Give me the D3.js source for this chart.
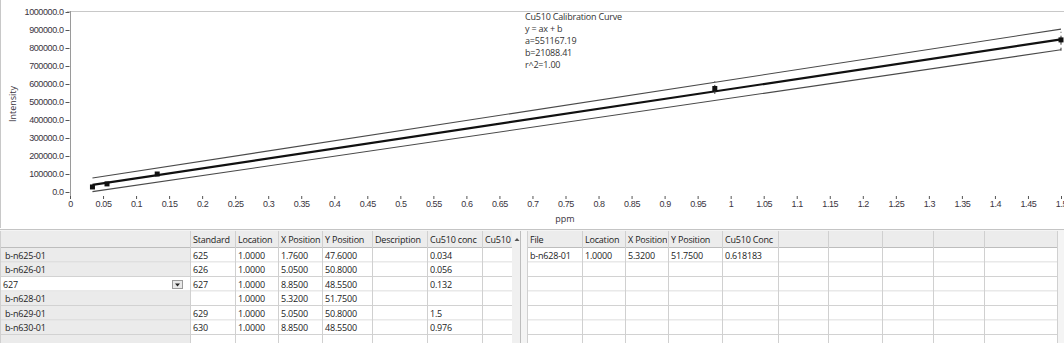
<!DOCTYPE html>
<html lang="en">
  <head>
    <meta charset="utf-8">
    <title>Cu510 Calibration Curve</title>
    <style type="text/css">
      body { margin: 0; background: #ffffff; }
      svg { display: block; font-family: "Open Sans", "Liberation Sans", sans-serif; }
    </style>
  </head>
  <body>
    <div id="chart"></div>

    <script type="text/javascript" src="https://cdn.jsdelivr.net/npm/d3@7"></script>

    <script type="text/javascript">
    // ===================================
    // DATA
    // ===================================
      var stdConc = [0.034, 0.056, 0.132, 0.976, 1.5];
      var stdIntensity = [28000, 45000, 100000, 575000, 845000];
      var stdErrLow = [20000, 38000, 92000, 545000, 785000];
      var stdErrHigh = [36000, 52000, 108000, 615000, 890000];

      var fitX = [0.034, 1.5];
      var fitY = [39800, 847800];
      var upperY = [78000, 905000];
      var lowerY = [2000, 790000];

      var xTicks = [0, 0.05, 0.1, 0.15, 0.2, 0.25, 0.3, 0.35, 0.4, 0.45, 0.5,
        0.55, 0.6, 0.65, 0.7, 0.75, 0.8, 0.85, 0.9, 0.95, 1, 1.05, 1.1, 1.15,
        1.2, 1.25, 1.3, 1.35, 1.4, 1.45, 1.5];
      var yTicks = [0, 100000, 200000, 300000, 400000, 500000, 600000, 700000,
        800000, 900000, 1000000];

      var fitText = ["Cu510 Calibration Curve", "y = ax + b", "a=551167.19",
        "b=21088.41", "r^2=1.00"];

      var stdHeaders = ["", "Standard", "Location", "X Position", "Y Position",
        "Description", "Cu510 conc", "Cu510 conc"];
      var stdRows = [
        ["b-n625-01", "625", "1.0000", "1.7600", "47.6000", "", "0.034", ""],
        ["b-n626-01", "626", "1.0000", "5.0500", "50.8000", "", "0.056", ""],
        ["627", "627", "1.0000", "8.8500", "48.5500", "", "0.132", ""],
        ["b-n628-01", "", "1.0000", "5.3200", "51.7500", "", "", ""],
        ["b-n629-01", "629", "1.0000", "5.0500", "50.8000", "", "1.5", ""],
        ["b-n630-01", "630", "1.0000", "8.8500", "48.5500", "", "0.976", ""],
        ["", "", "", "", "", "", "", ""]
      ];

      var fileHeaders = ["File", "Location", "X Position", "Y Position",
        "Cu510 Conc", "", "", "", "", ""];
      var fileRows = [
        ["b-n628-01", "1.0000", "5.3200", "51.7500", "0.618183", "", "", "", "", ""],
        ["", "", "", "", "", "", "", "", "", ""],
        ["", "", "", "", "", "", "", "", "", ""],
        ["", "", "", "", "", "", "", "", "", ""],
        ["", "", "", "", "", "", "", "", "", ""],
        ["", "", "", "", "", "", "", "", "", ""],
        ["", "", "", "", "", "", "", "", "", ""]
      ];

    // ===================================
    // SETUP
    // ===================================
      var w = 1064;
      var h = 343;

      var svg = d3.select("#chart")
        .append("svg")
        .attr("width", w)
        .attr("height", h);

      svg.append("rect")
        .attr("width", w).attr("height", h)
        .attr("fill", "#ffffff");

      var x = d3.scaleLinear().domain([0, 1.5]).range([70, 1061]);
      var y = d3.scaleLinear().domain([0, 1000000]).range([192, 12]);

      var textColor = "#3a3440";

    // ===================================
    // PLOT FRAME
    // ===================================
      svg.append("line")
        .attr("x1", 0.5).attr("x2", 0.5).attr("y1", 0).attr("y2", 228)
        .attr("stroke", "#c8c8c8");
      svg.append("line")
        .attr("x1", 67).attr("x2", w).attr("y1", 11.5).attr("y2", 11.5)
        .attr("stroke", "#c8c8c8");
      svg.append("line")
        .attr("x1", 70.5).attr("x2", 70.5).attr("y1", 11).attr("y2", 196)
        .attr("stroke", "#9a9a9a");

    // ===================================
    // AXES
    // ===================================
      var yAxis = svg.append("g")
        .attr("transform", "translate(69.5,0)")
        .call(d3.axisLeft(y)
          .tickValues(yTicks)
          .tickSize(4)
          .tickPadding(2)
          .tickFormat(d3.format(".1f")));
      yAxis.select(".domain").remove();
      yAxis.selectAll(".tick line").attr("stroke", "#555");
      yAxis.selectAll("text")
        .attr("fill", textColor)
        .style("font-size", "9px")
        .style("letter-spacing", "-0.4px");

      var xAxis = svg.append("g")
        .attr("transform", "translate(0,196)")
        .call(d3.axisBottom(x)
          .tickValues(xTicks)
          .tickSize(3)
          .tickPadding(2)
          .tickFormat(d3.format("~g")));
      xAxis.select(".domain").remove();
      xAxis.selectAll(".tick line").attr("stroke", "#555");
      xAxis.selectAll("text")
        .attr("fill", textColor)
        .style("font-size", "9px")
        .style("letter-spacing", "-0.4px");

      svg.append("text")
        .attr("x", 565).attr("y", 222)
        .attr("text-anchor", "middle")
        .attr("fill", textColor)
        .style("font-size", "9px")
        .text("ppm");

      svg.append("text")
        .attr("transform", "translate(16,104) rotate(-90)")
        .attr("text-anchor", "middle")
        .attr("fill", textColor)
        .style("font-size", "9px")
        .text("Intensity");

    // ===================================
    // FIT LINES
    // ===================================
      var line = d3.line()
        .x(function(d) { return x(d[0]); })
        .y(function(d) { return y(d[1]); });

      [[upperY, "#4a4a4a", 1.1], [lowerY, "#4a4a4a", 1.1], [fitY, "#111", 2.2]]
        .forEach(function(s) {
          svg.append("path")
            .datum(d3.zip(fitX, s[0]))
            .attr("d", line)
            .attr("fill", "none")
            .attr("stroke", s[1])
            .attr("stroke-width", s[2]);
        });

    // ===================================
    // STANDARD POINTS
    // ===================================
      var pts = d3.zip(stdConc, stdIntensity, stdErrLow, stdErrHigh);

      svg.selectAll(".err")
        .data(pts)
        .enter()
        .append("line")
        .attr("class", "err")
        .attr("x1", function(d) { return x(d[0]); })
        .attr("x2", function(d) { return x(d[0]); })
        .attr("y1", function(d) { return y(d[2]); })
        .attr("y2", function(d) { return y(d[3]); })
        .attr("stroke", "#333")
        .attr("stroke-dasharray", "3,3");

      svg.selectAll(".pt")
        .data(pts)
        .enter()
        .append("rect")
        .attr("class", "pt")
        .attr("x", function(d) { return x(d[0]) - 2.5; })
        .attr("y", function(d) { return y(d[1]) - 2.5; })
        .attr("width", 5)
        .attr("height", 5)
        .attr("fill", "#111");

    // ===================================
    // FIT TEXT
    // ===================================
      svg.selectAll(".fit")
        .data(fitText)
        .enter()
        .append("text")
        .attr("class", "fit")
        .attr("x", 525)
        .attr("y", function(d, i) { return 20 + i * 12; })
        .attr("fill", "#333")
        .style("font-size", "9px")
        .style("letter-spacing", "-0.2px")
        .text(function(d) { return d; });

    // ===================================
    // TABLES
    // ===================================
      svg.append("rect")
        .attr("x", 0).attr("y", 229).attr("width", w).attr("height", h - 229)
        .attr("fill", "#f4f4f4");

      var headTop = 231, headH = 17, rowH = 14.5;

      function drawTable(cols, headers, rows, labelCol) {
        var g = svg.append("g");
        var right = cols[cols.length - 1];
        var bottom = headTop + headH + rowH * rows.length;

        // header cells
        headers.forEach(function(t, i) {
          var cx = cols[i], cw = cols[i + 1] - cols[i];
          g.append("rect")
            .attr("x", cx).attr("y", headTop)
            .attr("width", cw).attr("height", headH)
            .attr("fill", "#ececec");
          var clipId = "clip" + Math.round(cx) + "h";
          g.append("clipPath").attr("id", clipId)
            .append("rect")
            .attr("x", cx).attr("y", headTop)
            .attr("width", cw - 1).attr("height", headH);
          g.append("text")
            .attr("clip-path", "url(#" + clipId + ")")
            .attr("x", cx + 3).attr("y", headTop + 12)
            .attr("fill", "#222")
            .style("font-size", "9px")
            .style("letter-spacing", "-0.2px")
            .text(t);
        });

        // body cells
        rows.forEach(function(r, ri) {
          var ry = headTop + headH + ri * rowH;
          r.forEach(function(t, i) {
            var cx = cols[i], cw = cols[i + 1] - cols[i];
            var isLabel = labelCol && i === 0;
            var isEdit = isLabel && t === "627";
            g.append("rect")
              .attr("x", cx).attr("y", ry)
              .attr("width", cw).attr("height", rowH)
              .attr("fill", isEdit ? "#ffffff" : (isLabel ? "#ebebeb" : "#ffffff"));
            g.append("text")
              .attr("x", cx + (isLabel && !isEdit ? 5 : 3))
              .attr("y", ry + 10.5)
              .attr("fill", "#222")
              .style("font-size", "9px")
              .style("letter-spacing", "-0.2px")
              .text(t);
            if (isEdit) {
              g.append("rect")
                .attr("x", cols[1] - 17.5).attr("y", ry + 3.5)
                .attr("width", 10).attr("height", 8)
                .attr("fill", "#e8e8e8").attr("stroke", "#9a9a9a");
              g.append("path")
                .attr("d", "M" + (cols[1] - 15) + "," + (ry + 6.5) + "h5l-2.5,3z")
                .attr("fill", "#222");
            }
          });
          g.append("line")
            .attr("x1", cols[0]).attr("x2", right)
            .attr("y1", ry + rowH - 0.5).attr("y2", ry + rowH - 0.5)
            .attr("stroke", "#d2d2d2");
        });

        // header bottom and column separators
        g.append("line")
          .attr("x1", cols[0]).attr("x2", right)
          .attr("y1", headTop + headH - 0.5).attr("y2", headTop + headH - 0.5)
          .attr("stroke", "#bdbdbd");
        cols.forEach(function(c) {
          g.append("line")
            .attr("x1", c + 0.5).attr("x2", c + 0.5)
            .attr("y1", headTop).attr("y2", bottom)
            .attr("stroke", "#d0d0d0");
        });
        return g;
      }

      drawTable([0, 190, 235, 278, 322, 372, 427, 482, 512], stdHeaders, stdRows, true);
      drawTable([527, 582, 625, 668, 722, 778, 828, 882, 933, 984, 1057], fileHeaders, fileRows, false);

      // scroll indicator on the standards table
      svg.append("rect")
        .attr("x", 512).attr("y", headTop).attr("width", 8).attr("height", h - headTop)
        .attr("fill", "#f0f0f0");
      svg.append("path")
        .attr("d", "M514.5,241h5l-2.5,-3z")
        .attr("fill", "#555");
      svg.append("line")
        .attr("x1", 520.5).attr("x2", 520.5).attr("y1", headTop).attr("y2", h)
        .attr("stroke", "#bdbdbd");

      svg.append("line")
        .attr("x1", 0).attr("x2", w).attr("y1", 229.5).attr("y2", 229.5)
        .attr("stroke", "#c4c4c4");
    </script>
  </body>
</html>
